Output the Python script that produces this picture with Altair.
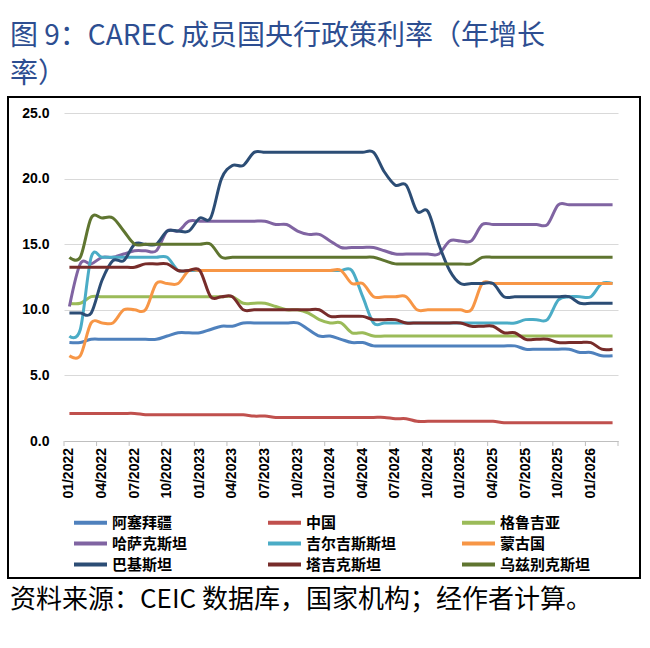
import altair as alt
import pandas as pd

# ---------------- data ----------------
months = [f"{(i % 12) + 1:02d}/{2022 + i // 12}" for i in range(51)]  # 01/2022 .. 03/2026

countries = ["阿塞拜疆", "中国", "格鲁吉亚", "哈萨克斯坦", "吉尔吉斯斯坦",
             "蒙古国", "巴基斯坦", "塔吉克斯坦", "乌兹别克斯坦"]
colors = ["#4F81BD", "#C0504D", "#9BBB59", "#8064A2", "#4BACC6",
          "#F79646", "#2C4D75", "#772C2A", "#5F7530"]

azerbaijan = [7.5, 7.5, 7.75, 7.75, 7.75, 7.75, 7.75, 7.75, 7.75, 8.0,
              8.25, 8.25, 8.25, 8.5, 8.75, 8.75, 9.0, 9.0, 9.0, 9.0,
              9.0, 9.0, 8.5, 8.0, 8.0, 7.75, 7.5, 7.5, 7.25, 7.25,
              7.25, 7.25, 7.25, 7.25, 7.25, 7.25, 7.25, 7.25, 7.25, 7.25,
              7.25, 7.25, 7.0, 7.0, 7.0, 7.0, 7.0, 6.75, 6.75, 6.5,
              6.5]
china = [2.1, 2.1, 2.1, 2.1, 2.1, 2.1, 2.1, 2.0, 2.0, 2.0,
         2.0, 2.0, 2.0, 2.0, 2.0, 2.0, 2.0, 1.9, 1.9, 1.8,
         1.8, 1.8, 1.8, 1.8, 1.8, 1.8, 1.8, 1.8, 1.8, 1.8,
         1.7, 1.7, 1.5, 1.5, 1.5, 1.5, 1.5, 1.5, 1.5, 1.5,
         1.4, 1.4, 1.4, 1.4, 1.4, 1.4, 1.4, 1.4, 1.4, 1.4,
         1.4]
georgia = [10.5, 10.5, 11.0, 11.0, 11.0, 11.0, 11.0, 11.0, 11.0, 11.0,
           11.0, 11.0, 11.0, 11.0, 11.0, 11.0, 10.5, 10.5, 10.5, 10.25,
           10.0, 10.0, 9.75, 9.25, 9.0, 9.0, 8.25, 8.25, 8.0, 8.0,
           8.0, 8.0, 8.0, 8.0, 8.0, 8.0, 8.0, 8.0, 8.0, 8.0,
           8.0, 8.0, 8.0, 8.0, 8.0, 8.0, 8.0, 8.0, 8.0, 8.0,
           8.0]
kazakhstan = [10.25, 13.5, 13.5, 14.0, 14.0, 14.25, 14.5, 14.5, 14.5, 16.0,
              16.0, 16.75, 16.75, 16.75, 16.75, 16.75, 16.75, 16.75, 16.75, 16.5,
              16.5, 16.0, 15.75, 15.75, 15.25, 14.75, 14.75, 14.75, 14.75, 14.5,
              14.25, 14.25, 14.25, 14.25, 14.25, 15.25, 15.25, 15.25, 16.5, 16.5,
              16.5, 16.5, 16.5, 16.5, 16.5, 18.0, 18.0, 18.0, 18.0, 18.0,
              18.0]
kyrgyzstan = [8.0, 8.5, 14.0, 14.0, 14.0, 14.0, 14.0, 14.0, 14.0, 14.0,
              13.0, 13.0, 13.0, 13.0, 13.0, 13.0, 13.0, 13.0, 13.0, 13.0,
              13.0, 13.0, 13.0, 13.0, 13.0, 13.0, 13.0, 11.0, 9.0, 9.0,
              9.0, 9.0, 9.0, 9.0, 9.0, 9.0, 9.0, 9.0, 9.0, 9.0,
              9.0, 9.0, 9.25, 9.25, 9.25, 10.75, 11.0, 11.0, 11.0, 12.0,
              12.0]
mongolia = [6.5, 6.5, 9.0, 9.0, 9.0, 10.0, 10.0, 10.0, 12.0, 12.0,
            12.0, 13.0, 13.0, 13.0, 13.0, 13.0, 13.0, 13.0, 13.0, 13.0,
            13.0, 13.0, 13.0, 13.0, 13.0, 13.0, 12.0, 12.0, 11.0, 11.0,
            11.0, 11.0, 10.0, 10.0, 10.0, 10.0, 10.0, 10.0, 12.0, 12.0,
            12.0, 12.0, 12.0, 12.0, 12.0, 12.0, 12.0, 12.0, 12.0, 12.0,
            12.0]
pakistan = [9.75, 9.75, 9.75, 12.25, 13.75, 13.75, 15.0, 15.0, 15.0, 16.0,
            16.0, 16.0, 17.0, 17.0, 20.0, 21.0, 21.0, 22.0, 22.0, 22.0,
            22.0, 22.0, 22.0, 22.0, 22.0, 22.0, 22.0, 22.0, 22.0, 20.5,
            19.5, 19.5, 17.5, 17.5, 15.0, 13.0, 12.0, 12.0, 12.0, 12.0,
            11.0, 11.0, 11.0, 11.0, 11.0, 11.0, 11.0, 10.5, 10.5, 10.5,
            10.5]
tajikistan = [13.25, 13.25, 13.25, 13.25, 13.25, 13.25, 13.25, 13.5, 13.5, 13.5,
              13.0, 13.0, 13.0, 11.0, 11.0, 11.0, 10.0, 10.0, 10.0, 10.0,
              10.0, 10.0, 10.0, 10.0, 9.5, 9.5, 9.5, 9.5, 9.25, 9.25,
              9.25, 9.0, 9.0, 9.0, 9.0, 9.0, 9.0, 8.75, 8.75, 8.75,
              8.25, 8.25, 7.75, 7.75, 7.75, 7.5, 7.5, 7.5, 7.5, 7.0,
              7.0]
uzbekistan = [14.0, 14.0, 17.0, 17.0, 17.0, 16.0, 15.0, 15.0, 15.0, 15.0,
              15.0, 15.0, 15.0, 15.0, 14.0, 14.0, 14.0, 14.0, 14.0, 14.0,
              14.0, 14.0, 14.0, 14.0, 14.0, 14.0, 14.0, 14.0, 14.0, 13.75,
              13.5, 13.5, 13.5, 13.5, 13.5, 13.5, 13.5, 13.5, 14.0, 14.0,
              14.0, 14.0, 14.0, 14.0, 14.0, 14.0, 14.0, 14.0, 14.0, 14.0,
              14.0]

series = [azerbaijan, china, georgia, kazakhstan, kyrgyzstan,
          mongolia, pakistan, tajikistan, uzbekistan]

y_ticks = [0, 5, 10, 15, 20, 25]
title_lines = ["图 9：CAREC 成员国央行政策利率（年增长", "率）"]
source_text = "资料来源：CEIC 数据库，国家机构；经作者计算。"

# ---------------- frame ----------------
rows = []
for k, (name, vals) in enumerate(zip(countries, series)):
    assert len(vals) == len(months)
    for i, v in enumerate(vals):
        rows.append({"idx": i, "month": months[i], "country": name, "rate": v, "order": k})
df = pd.DataFrame(rows)

label_idx = list(range(0, len(months), 3))
label_df = pd.DataFrame({"idx": label_idx, "label": [months[i] for i in label_idx]})
tick_df = pd.DataFrame({"pos": [i - 0.5 for i in label_idx] + [len(months) - 0.5]})

W, H = 554, 328
xscale = alt.Scale(domain=[-0.5, len(months) - 0.5], nice=False, zero=False)
yscale = alt.Scale(domain=[0, 25], nice=False)

lines = alt.Chart(df).mark_line(interpolate="cardinal", strokeWidth=3).encode(
    x=alt.X("idx:Q", scale=xscale,
            axis=alt.Axis(values=label_idx, labels=False, title=None, ticks=False, grid=False,
                          domainColor="#BFBFBF", domainWidth=1)),
    y=alt.Y("rate:Q", scale=yscale,
            axis=alt.Axis(values=y_ticks, format=".1f", title=None, grid=True,
                          gridColor="#D9D9D9", gridWidth=1, domain=False, ticks=False,
                          labelFont="Liberation Sans", labelFontWeight="bold",
                          labelFontSize=14, labelColor="black", labelPadding=15)),
    color=alt.Color("country:N", scale=alt.Scale(domain=countries, range=colors),
                    legend=alt.Legend(orient="none", legendX=19, legendY=402, columns=3,
                                      direction="horizontal",
                                      title=None, symbolType="M-3.3,0H3.3", symbolSize=100,
                                      symbolStrokeWidth=4, labelOffset=14,
                                      labelFont="Noto Sans CJK SC", labelFontSize=15,
                                      labelFontWeight="bold", labelColor="black",
                                      gridAlign="all", columnPadding=57, rowPadding=4,
                                      labelLimit=300)),
    order=alt.Order("order:Q"),
    detail="country:N",
)

xlabels = alt.Chart(label_df).mark_text(
    angle=270, align="right", baseline="middle", font="Liberation Sans",
    fontWeight="bold", fontSize=14, color="black"
).encode(x=alt.X("idx:Q", scale=xscale), y=alt.value(H + 7), text="label:N")

ticks = alt.Chart(tick_df).mark_rule(color="#BFBFBF", strokeWidth=1).encode(
    x=alt.X("pos:Q", scale=xscale),
    y=alt.value(H), y2=alt.value(H + 5),
)

one = pd.DataFrame({"a": [0]})
frame = alt.Chart(one).mark_rect(fill="transparent", stroke="black", strokeWidth=2).encode(
    x=alt.value(-56), x2=alt.value(576), y=alt.value(-16), y2=alt.value(465))

title1 = alt.Chart(pd.DataFrame({"t": [title_lines[0]]})).mark_text(
    align="left", baseline="middle", font="Noto Sans CJK SC", fontSize=28, color="#2D4E91"
).encode(text="t:N", x=alt.value(-54), y=alt.value(-76))
title2 = alt.Chart(pd.DataFrame({"t": [title_lines[1]]})).mark_text(
    align="left", baseline="middle", font="Noto Sans CJK SC", fontSize=28, color="#2D4E91"
).encode(text="t:N", x=alt.value(-54), y=alt.value(-38))
source = alt.Chart(pd.DataFrame({"t": [source_text]})).mark_text(
    align="left", baseline="middle", font="Noto Sans CJK SC", fontSize=26, color="black"
).encode(text="t:N", x=alt.value(-54), y=alt.value(487))

chart = alt.layer(frame, ticks, lines, xlabels, title1, title2, source).properties(
    width=W, height=H,
    autosize=alt.AutoSizeParams(type="none"),
    padding={"left": 64, "top": 113, "right": 650 - 64 - W, "bottom": 648 - 113 - H},
    background="white",
).configure_view(stroke=None)

chart.save("out.html", embed_options={"renderer": "svg", "actions": False})
